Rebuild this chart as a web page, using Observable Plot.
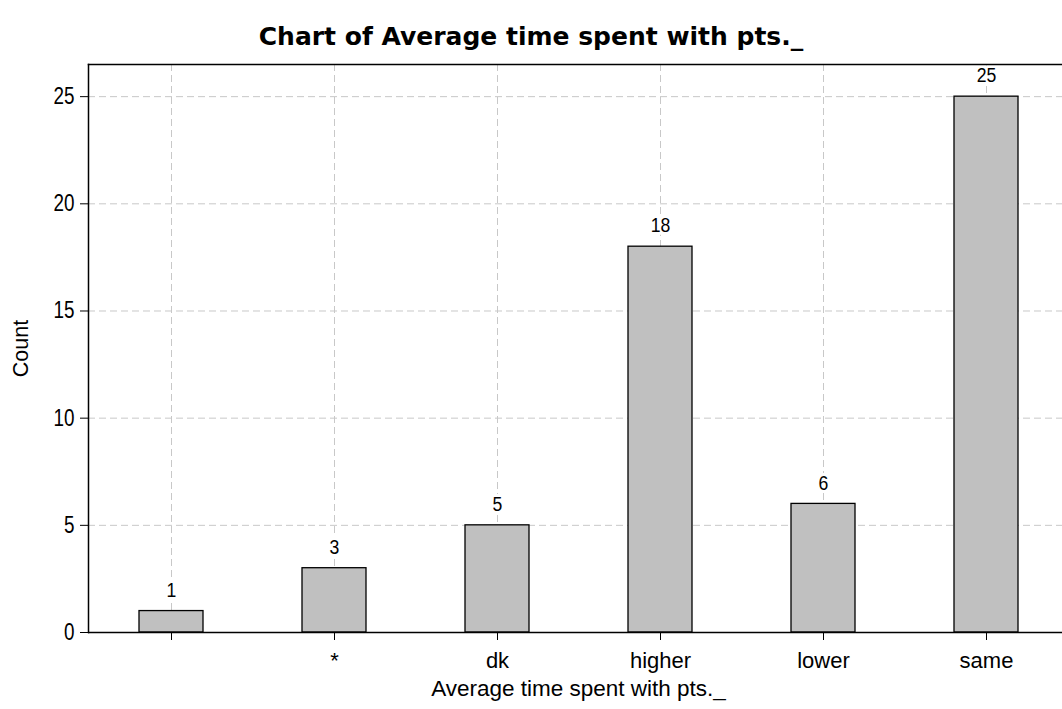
<!DOCTYPE html>
<html>
<head>
<meta charset="utf-8">
<script src="https://cdn.jsdelivr.net/npm/d3@7"></script>
<script src="https://cdn.jsdelivr.net/npm/@observablehq/plot@0.6"></script>
<style>
  html, body { margin: 0; padding: 0; background: #fff; overflow: hidden; width: 1062px; height: 709px; }
  #title { height: 56px; box-sizing: border-box; padding-top: 24px; font: bold 25px "DejaVu Sans", sans-serif; line-height: 26px; text-align: center; color: #000; white-space: nowrap; }
  #chart g[aria-label="y-axis tick label"] { font-size: 23px; }
  #chart g[aria-label="x-axis tick label"] { font-size: 22px; }
  #chart g[aria-label="x-axis label"] { font-size: 22.5px; }
  #chart g[aria-label="y-axis label"] { font-size: 21.5px; }
  #chart g.value-labels { font-size: 21px; }
</style>
</head>
<body>
<div id="title">Chart of Average time spent with pts._</div>
<div id="chart"></div>
<script>
const categories = ["", "*", "dk", "higher", "lower", "same"];
const counts = [1, 3, 5, 18, 6, 25];
const yTicks = [0, 5, 10, 15, 20, 25];
const xLabel = "Average time spent with pts._";
const yLabel = "Count";

const data = categories.map((c, i) => ({cat: c, n: counts[i]}));
const font = "'Liberation Sans', Arial, sans-serif";

const chart = Plot.plot({
  width: 1068,
  height: 653,
  marginLeft: 88,
  marginRight: 0,
  marginTop: 8,
  marginBottom: 77,
  style: {fontFamily: font, fontSize: "20px", maxWidth: "none", background: "#fff", color: "#000"},
  x: {domain: categories, paddingInner: 0.608, paddingOuter: 0.304},
  y: {domain: [0, 26.5]},
  marks: [
    Plot.gridX(categories, {stroke: "#c8c8c8", strokeOpacity: 1, strokeDasharray: "7,4", strokeWidth: 1}),
    Plot.gridY(yTicks.filter(d => d > 0), {stroke: "#c8c8c8", strokeOpacity: 1, strokeDasharray: "7,4", strokeWidth: 1}),
    Plot.barY(data, {x: "cat", y: "n", fill: "#c0c0c0", stroke: "#000", strokeWidth: 1.3}),
    Plot.text(data, {x: "cat", y: "n", text: d => String(d.n), dy: -21, fontSize: 21, fill: "#000", stroke: "#fff", strokeWidth: 6, paintOrder: "stroke", className: "value-labels"}),
    Plot.axisY({ticks: yTicks, tickSize: 8, tickPadding: 6, fontSize: 23, label: yLabel, labelAnchor: "center", labelArrow: "none", labelOffset: 76, tickFormat: d => String(d)}),
    Plot.axisX({tickSize: 8, tickPadding: 12, fontSize: 22, label: xLabel, labelAnchor: "center", labelArrow: "none", labelOffset: 63, tickFormat: d => d}),
    Plot.frame({anchor: "top", strokeWidth: 1.5}),
    Plot.frame({anchor: "left", strokeWidth: 1.5}),
    Plot.ruleY([0], {strokeWidth: 1.5})
  ]
});
document.getElementById("chart").appendChild(chart);

// Narrow the numeric labels horizontally (reference uses a condensed face for digits)
function squeeze(selector, s) {
  chart.querySelectorAll(selector).forEach(t => {
    let tr = t.getAttribute("transform") || "";
    const x = t.getAttribute("x");
    if (x != null) { tr += ` translate(${x},0)`; t.removeAttribute("x"); }
    t.setAttribute("transform", `${tr} scale(${s},1)`.trim());
  });
}
squeeze('g[aria-label="y-axis tick label"] text', 0.82);
squeeze('g.value-labels text', 0.84);
</script>
</body>
</html>
